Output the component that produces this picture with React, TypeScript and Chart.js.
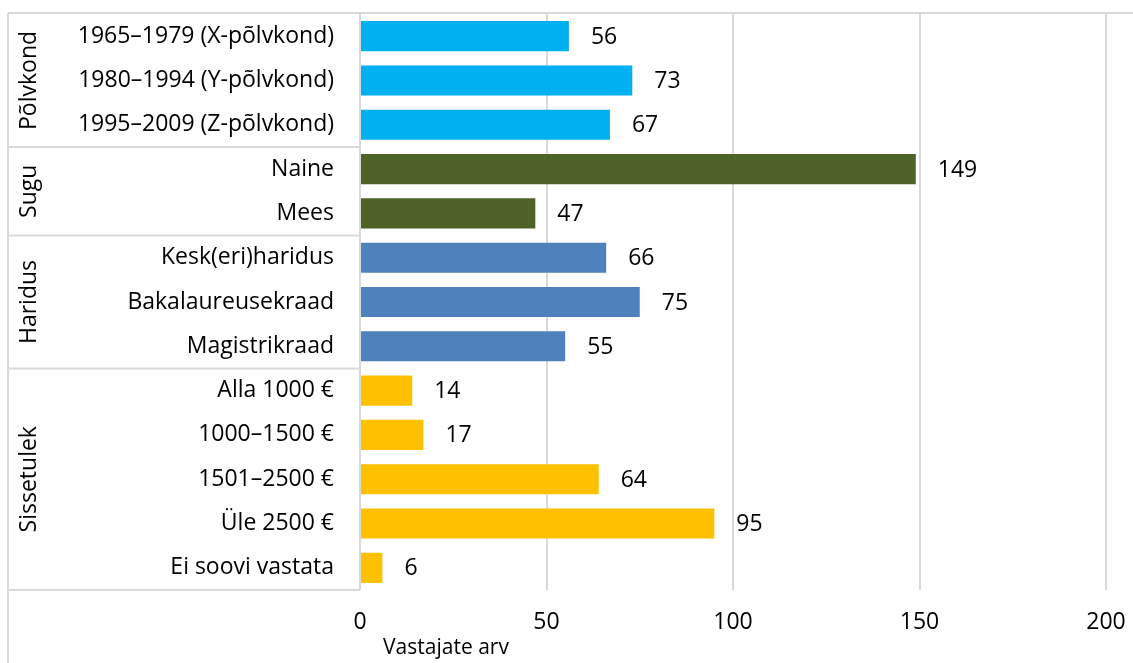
import React, { useEffect, useRef } from "react";
import { Chart, registerables } from "chart.js";

Chart.register(...registerables);

const categories = [
  "1965–1979 (X-põlvkond)",
  "1980–1994 (Y-põlvkond)",
  "1995–2009 (Z-põlvkond)",
  "Naine",
  "Mees",
  "Kesk(eri)haridus",
  "Bakalaureusekraad",
  "Magistrikraad",
  "Alla 1000 €",
  "1000–1500 €",
  "1501–2500 €",
  "Üle 2500 €",
  "Ei soovi vastata",
];
const values = [56, 73, 67, 149, 47, 66, 75, 55, 14, 17, 64, 95, 6];
const groupNames = ["Põlvkond", "Sugu", "Haridus", "Sissetulek"];
const groupSizes = [3, 2, 3, 5];
const groupColors = ["#00B0F0", "#4F6228", "#4F81BD", "#FFC000"];
const xTicks = [0, 50, 100, 150, 200];
const axisTitle = "Vastajate arv";

const FONT = "'Open Sans', 'Noto Sans', sans-serif";
const FONT_SIZE = 23;
const TITLE_SIZE = 21;
const LINE = "#d9d9d9";

export default function App() {
  const ref = useRef<HTMLCanvasElement | null>(null);

  useEffect(() => {
    if (!ref.current) return;
    const colors: string[] = [];
    groupSizes.forEach((n, g) => {
      for (let i = 0; i < n; i++) colors.push(groupColors[g]);
    });

    const framePlugin = {
      id: "frame",
      beforeDatasetsDraw(chart: any) {
        const { ctx, chartArea, scales } = chart;
        const y = scales.y;
        const half = (y.getPixelForValue(1) - y.getPixelForValue(0)) / 2;
        ctx.save();
        ctx.strokeStyle = LINE;
        ctx.lineWidth = 2;
        ctx.beginPath();
        ctx.moveTo(8, 13);
        ctx.lineTo(chart.width, 13);
        ctx.moveTo(8, 13);
        ctx.lineTo(8, chart.height);
        let idx = 0;
        groupSizes.forEach((n) => {
          idx += n;
          const yy = y.getPixelForValue(idx - 1) + half;
          ctx.moveTo(8, yy);
          ctx.lineTo(chartArea.left, yy);
        });
        ctx.stroke();
        ctx.restore();
      },
      afterDatasetsDraw(chart: any) {
        const { ctx, chartArea, scales } = chart;
        const y = scales.y;
        const half = (y.getPixelForValue(1) - y.getPixelForValue(0)) / 2;
        ctx.save();
        ctx.fillStyle = "#000";
        ctx.font = `${FONT_SIZE}px ${FONT}`;
        const meta = chart.getDatasetMeta(0);
        ctx.textAlign = "left";
        ctx.textBaseline = "middle";
        meta.data.forEach((el: any, i: number) => {
          ctx.fillText(String(values[i]), el.x + 22, el.y + 1);
        });
        let start = 0;
        groupSizes.forEach((n, g) => {
          const top = y.getPixelForValue(start) - half;
          const bot = y.getPixelForValue(start + n - 1) + half;
          ctx.save();
          ctx.translate(29, (top + bot) / 2);
          ctx.rotate(-Math.PI / 2);
          ctx.textAlign = "center";
          ctx.textBaseline = "middle";
          ctx.fillText(groupNames[g], 0, 0);
          ctx.restore();
          start += n;
        });
        ctx.font = `${TITLE_SIZE}px ${FONT}`;
        ctx.textAlign = "center";
        ctx.textBaseline = "middle";
        ctx.fillText(axisTitle, chartArea.left + 86, chartArea.bottom + 58);
        ctx.restore();
      },
    };

    const chart = new Chart(ref.current, {
      type: "bar",
      data: {
        labels: categories,
        datasets: [
          {
            data: values,
            backgroundColor: colors,
            categoryPercentage: 1,
            barPercentage: 0.68,
          },
        ],
      },
      options: {
        indexAxis: "y",
        animation: false,
        responsive: false,
        maintainAspectRatio: false,
        layout: { padding: { left: 8, top: 14, right: 27, bottom: 0 } },
        plugins: { legend: { display: false }, tooltip: { enabled: false } },
        scales: {
          x: {
            type: "linear",
            min: 0,
            max: 200,
            afterBuildTicks(scale: any) {
              scale.ticks = xTicks.map((v) => ({ value: v }));
            },
            afterFit(scale: any) {
              scale.height = 73;
              scale.paddingLeft = 0;
              scale.paddingRight = 0;
            },
            grid: { color: LINE, lineWidth: 2, drawTicks: false },
            border: { display: false },
            ticks: {
              padding: 19,
              color: "#000",
              font: { family: FONT, size: FONT_SIZE },
            },
          },
          y: {
            afterFit(scale: any) {
              scale.width = 352;
              scale.paddingTop = 0;
              scale.paddingBottom = 0;
            },
            grid: { display: false, drawTicks: false },
            border: { display: false },
            ticks: {
              padding: 26,
              color: "#000",
              font: { family: FONT, size: FONT_SIZE },
              autoSkip: false,
            },
          },
        },
      },
      plugins: [framePlugin],
    });
    return () => chart.destroy();
  }, []);

  return (
    <div style={{ position: "fixed", left: 0, top: 0, width: 1133, height: 663, background: "#fff" }}>
      <canvas ref={ref} width={1133} height={663} style={{ width: 1133, height: 663, display: "block" }} />
    </div>
  );
}
